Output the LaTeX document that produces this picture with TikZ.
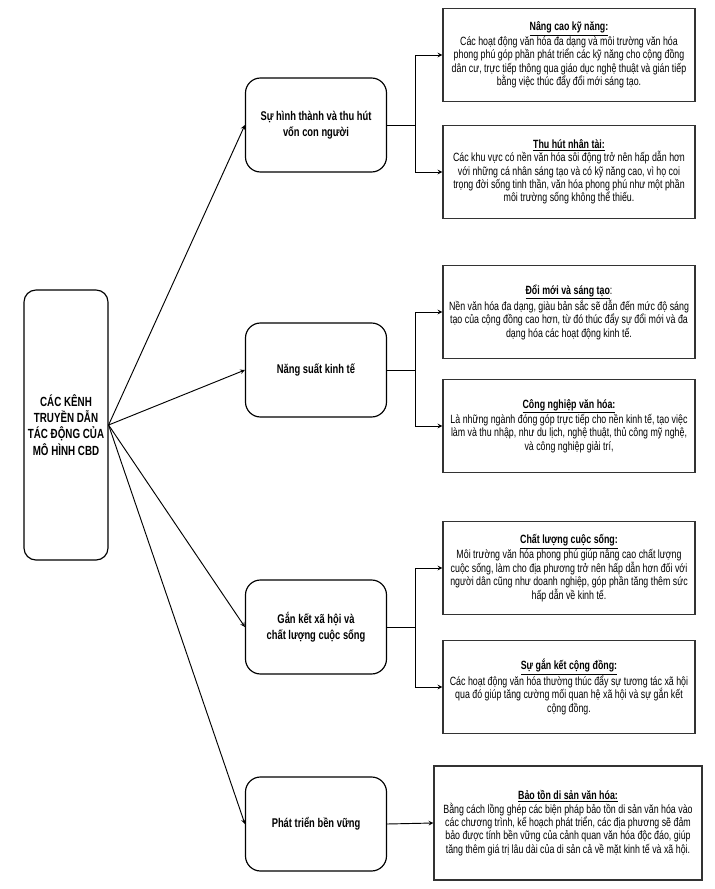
\documentclass[tikz,border=0pt]{standalone}
\usepackage{fontspec}
\setmainfont[FakeStretch=0.74]{Liberation Sans}
\usetikzlibrary{positioning}
\tikzset{
    kenh/.style={draw, line width=1pt, rounded corners=0.36cm, minimum width=2.52cm, minimum height=8.1cm,
        align=center, font=\fontsize{11.3}{13.8}\selectfont\bfseries, inner sep=1pt},
    nhanh/.style={draw, line width=1pt, rounded corners=0.45cm, minimum width=4.23cm, minimum height=2.82cm,
        align=center, font=\fontsize{10.8}{13.5}\selectfont\bfseries},
    tacdong/.style={draw=black!80, line width=1.1pt, minimum width=7.56cm, minimum height=2.8cm,
        align=center, font=\fontsize{10.2}{11.4}\selectfont, inner sep=2pt},
    muiten/.style={->, >=stealth, line width=0.8pt}
}
\newcommand{\tieude}[1]{\textbf{\underline{#1}}}

\begin{document}
\begin{tikzpicture}[x=0.03cm, y=-0.03cm]
                \useasboundingbox (0,0) rectangle (714,889);

                %Nodes
                \node[kenh] at (66,425)   (cbd)   {CÁC KÊNH\\TRUYỀN DẪN\\TÁC ĐỘNG CỦA\\MÔ HÌNH CBD};

                \node[nhanh] at (316,125) (hut)   {Sự hình thành và thu hút\\vốn con người};
                \node[nhanh] at (316,370) (nsuat) {Năng suất kinh tế};
                \node[nhanh] at (316,627) (gket)  {Gắn kết xã hội và\\chất lượng cuộc sống};
                \node[nhanh] at (316,824) (ptbv)  {Phát triển bền vững};

                \node[tacdong] at (569,55)  (kn) {\tieude{Nâng cao kỹ năng:}\\
                    Các hoạt động văn hóa đa dạng và môi trường văn hóa\\
                    phong phú góp phần phát triển các kỹ năng cho cộng đồng\\
                    dân cư, trực tiếp thông qua giáo dục nghệ thuật và gián tiếp\\
                    bằng việc thúc đẩy đổi mới sáng tạo.};
                \node[tacdong] at (569,172) (nt) {\tieude{Thu hút nhân tài:}\\
                    Các khu vực có nền văn hóa sôi động trở nên hấp dẫn hơn\\
                    với những cá nhân sáng tạo và có kỹ năng cao, vì họ coi\\
                    trọng đời sống tinh thần, văn hóa phong phú như một phần\\
                    môi trường sống không thể thiếu.};
                \node[tacdong] at (569,312) (dm) {\tieude{Đổi mới và sáng tạo}:\\
                    Nền văn hóa đa dạng, giàu bản sắc sẽ dẫn đến mức độ sáng\\
                    tạo của cộng đồng cao hơn, từ đó thúc đẩy sự đổi mới và đa\\
                    dạng hóa các hoạt động kinh tế.};
                \node[tacdong] at (569,426) (cn) {\tieude{Công nghiệp văn hóa:}\\
                    Là những ngành đóng góp trực tiếp cho nền kinh tế, tạo việc\\
                    làm và thu nhập, như du lịch, nghệ thuật, thủ công mỹ nghệ,\\
                    và công nghiệp giải trí,};
                \node[tacdong] at (569,568) (cl) {\tieude{Chất lượng cuộc sống:}\\
                    Môi trường văn hóa phong phú giúp nâng cao chất lượng\\
                    cuộc sống, làm cho địa phương trở nên hấp dẫn hơn đối với\\
                    người dân cũng như doanh nghiệp, góp phần tăng thêm sức\\
                    hấp dẫn về kinh tế.};
                \node[tacdong] at (569,687) (gk) {\tieude{Sự gắn kết cộng đồng:}\\
                    Các hoạt động văn hóa thường thúc đẩy sự tương tác xã hội\\
                    qua đó giúp tăng cường mối quan hệ xã hội và sự gắn kết\\
                    cộng đồng.};
                \node[tacdong, minimum width=8.04cm, minimum height=3.42cm] at (568,823) (bt) {\tieude{Bảo tồn di sản văn hóa:}\\
                    Bằng cách lồng ghép các biện pháp bảo tồn di sản văn hóa vào\\
                    các chương trình, kế hoạch phát triển, các địa phương sẽ đảm\\
                    bảo được tính bền vững của cảnh quan văn hóa độc đáo, giúp\\
                    tăng thêm giá trị lâu dài của di sản cả về mặt kinh tế và xã hội.};

                %Lines
                \draw[muiten] (cbd.east) -- (hut.west);
                \draw[muiten] (cbd.east) -- (nsuat.west);
                \draw[muiten] (cbd.east) -- (gket.west);
                \draw[muiten] (cbd.east) -- (ptbv.west);

                \draw[muiten] (hut.east) -- ++(28,0) |- (kn.west);
                \draw[muiten] (hut.east) -- ++(28,0) |- (nt.west);
                \draw[muiten] (nsuat.east) -- ++(28,0) |- (dm.west);
                \draw[muiten] (nsuat.east) -- ++(28,0) |- (cn.west);
                \draw[muiten] (gket.east) -- ++(28,0) |- (cl.west);
                \draw[muiten] (gket.east) -- ++(28,0) |- (gk.west);
                \draw[muiten] (ptbv.east) -- (bt.west);
            \end{tikzpicture}
\end{document}
